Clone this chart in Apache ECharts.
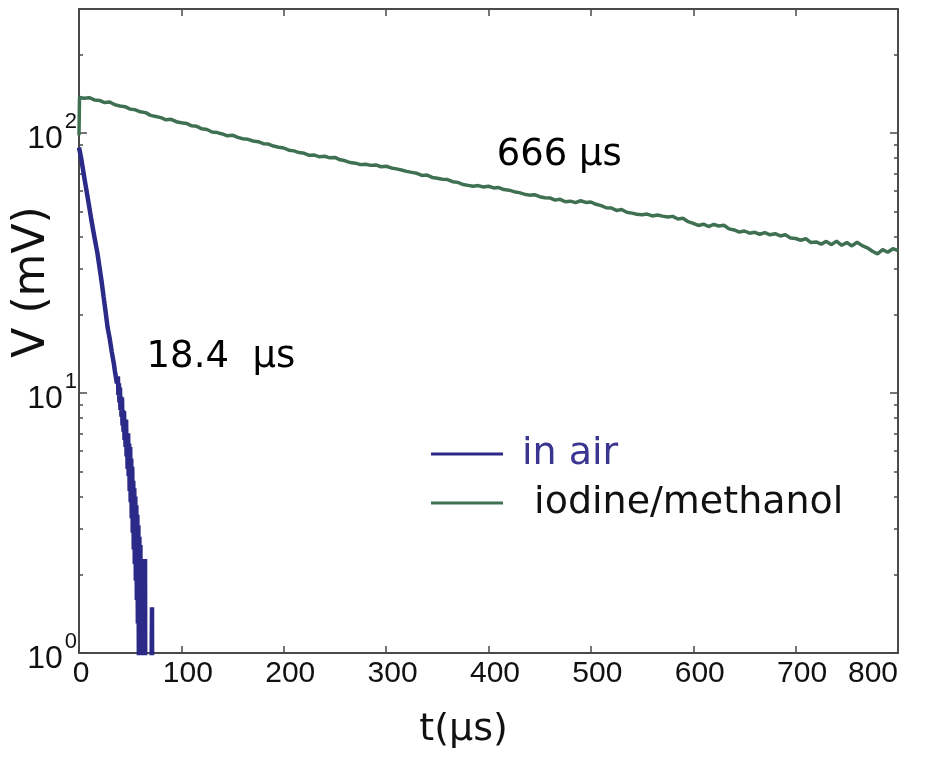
<!DOCTYPE html>
<html>
<head>
<meta charset="utf-8">
<title>Decay of V(t)</title>
<script src="https://cdn.jsdelivr.net/npm/echarts@6/dist/echarts.min.js"></script>
<style>
  html, body { margin: 0; padding: 0; background: #ffffff; }
  #chart { width: 934px; height: 759px; }
</style>
</head>
<body>
<div id="chart"></div>
<script>
// Time axis (µs) and voltage axis (mV, log scale)
const tMin = 0;
const tMax = 800;
const tStep = 100;
const vMin = 1;
const vMax = 300;
const vMajorTicks = [1, 10, 100];
const vMinorTicks = [2, 3, 4, 5, 6, 7, 8, 9, 20, 30, 40, 50, 60, 70, 80, 90, 200];

const seriesNames = ['in air', 'iodine/methanol'];

// Signal in air: [t (µs), V (mV)]; readings below 1 mV fall under the axis
const airData = [
  [0, 88], [2, 80.5], [4, 72], [6, 64.5], [8, 58], [10, 52], [12, 46.5], [14, 42],
  [16, 38], [18, 34.5], [20, 30.5], [22, 27], [24, 23.5], [26, 20.5], [28, 17.8],
  [30, 16.2], [32, 14.4], [34, 13.0], [35, 12.2], [36, 12.0], [37, 10.9],
  [38, 11.6], [38.5, 9.8], [39, 10.9], [39.5, 9.2], [40, 10.5], [40.5, 8.6],
  [41, 9.7], [41.5, 8.1], [42, 9.6], [42.5, 7.5], [43, 8.6], [43.5, 7.1],
  [44, 8.5], [44.5, 6.6], [45, 7.6], [45.5, 6.2], [46, 7.9], [46.5, 5.7],
  [47, 6.8], [47.5, 5.1], [48, 7.0], [48.5, 4.8], [49, 6.4], [49.5, 4.2],
  [50, 6.2], [50.5, 3.8], [51, 5.6], [51.5, 3.3], [52, 5.2], [52.5, 2.9],
  [53, 4.6], [53.5, 2.5], [54, 4.3], [54.5, 2.2], [55, 4.0], [55.5, 1.9],
  [56, 3.7], [56.5, 1.6], [57, 3.4], [57.5, 1.3], [58, 3.1], [58.5, 0.9],
  [59, 2.8], [59.5, 0.5], [60, 2.6], [60.5, 0.4], [61, 2.3], [61.5, 0.3],
  [62, 2.1], [62.5, 0.3], [63, 1.7], [63.5, 0.2], [64, 0.3], [64.5, 2.3],
  [65, 0.2], [66, 0.4], [67, 0.2], [68, 0.3], [69, 0.2], [70, 0.3], [71, 0.3],
  [71.3, 1.5], [71.6, 0.3], [72, 0.1]
];

// Signal in iodine/methanol: [t (µs), V (mV)]
const iodineData = [
  [0, 98], [0.5, 137], [5, 136.2], [10, 136.8], [15, 134.1], [20, 133.5], [25, 131.0],
  [30, 131.6], [35, 128.4], [40, 127.1], [45, 126.3], [50, 123.6], [55, 122.9],
  [60, 120.7], [65, 119.8], [70, 116.9], [75, 115.8], [80, 114.6], [85, 112.4],
  [90, 112.9], [95, 110.6], [100, 109.5], [105, 108.9], [110, 106.6], [115, 106.1],
  [120, 103.8], [125, 103.2], [130, 100.9], [135, 100.4], [140, 99.2], [145, 97.6],
  [150, 98.1], [155, 96.2], [160, 95.1], [165, 94.6], [170, 93.2], [175, 92.6],
  [180, 91.0], [185, 90.7], [190, 89.1], [195, 88.2], [200, 87.6], [205, 85.9],
  [210, 85.4], [215, 84.1], [220, 83.6], [225, 82.1], [230, 82.3], [235, 81.0],
  [240, 81.4], [245, 80.3], [250, 80.6], [255, 78.9], [260, 78.2], [265, 77.0],
  [270, 76.6], [275, 75.6], [280, 75.9], [285, 75.1], [290, 75.4], [295, 74.2],
  [300, 74.5], [305, 73.4], [310, 72.8], [315, 72.1], [320, 71.2], [325, 70.6],
  [330, 70.0], [335, 68.7], [340, 68.9], [345, 67.5], [350, 67.0], [355, 66.4],
  [360, 66.2], [365, 65.0], [370, 64.6], [375, 63.4], [380, 62.9], [385, 62.4],
  [390, 62.8], [395, 62.0], [400, 62.4], [405, 61.5], [410, 61.7], [415, 60.6],
  [420, 60.3], [425, 59.5], [430, 59.0], [435, 58.2], [440, 57.7], [445, 57.9],
  [450, 56.9], [455, 56.4], [460, 56.3], [465, 55.2], [470, 55.6], [475, 54.4],
  [480, 54.7], [485, 54.0], [490, 54.9], [495, 54.1], [500, 54.3], [505, 53.2],
  [510, 52.6], [515, 51.6], [520, 51.5], [525, 50.4], [530, 50.8], [535, 49.6],
  [540, 49.2], [545, 48.7], [550, 48.5], [555, 48.8], [560, 48.0], [565, 48.4],
  [570, 47.9], [575, 47.5], [580, 47.8], [585, 46.7], [590, 47.0], [595, 45.6],
  [600, 44.9], [605, 44.1], [610, 44.6], [615, 43.7], [620, 44.5], [625, 43.9],
  [630, 44.2], [635, 42.8], [640, 42.4], [645, 41.6], [650, 42.0], [655, 41.2],
  [660, 41.5], [665, 40.8], [670, 41.4], [675, 40.6], [680, 41.0], [685, 40.2],
  [690, 40.6], [695, 39.5], [700, 39.3], [705, 38.7], [710, 39.2], [715, 37.9],
  [720, 38.1], [725, 37.4], [730, 38.3], [735, 37.2], [740, 38.4], [745, 37.0],
  [750, 37.9], [755, 36.8], [760, 38.0], [765, 36.9], [770, 36.2], [775, 35.1],
  [780, 34.3], [785, 35.6], [790, 34.8], [795, 35.9], [800, 35.3]
];

// Decay-time annotations placed in data coordinates (left edge of text)
const noteTexts = ['666 µs', '18.4  µs'];
const notePositions = [[408, 82], [66, 13.7]];

const frameColor = '#4a4a4a';
const airColor = '#2c2a88';
const iodineColor = '#3f7052';

const chart = echarts.init(document.getElementById('chart'), null, { renderer: 'canvas' });

const frameLine = { color: frameColor, width: 2 };
const tickLine = { color: frameColor, width: 1.5 };

function logAxis(extra) {
  return Object.assign({
    type: 'log',
    logBase: 10,
    min: vMin,
    max: vMax,
    splitLine: { show: false },
    axisLabel: { show: false }
  }, extra);
}

const tickFont = { fontFamily: 'Liberation Sans', fontSize: 30, color: '#111111' };

const option = {
  animation: false,
  backgroundColor: '#ffffff',
  grid: {
    left: 79, right: 36, top: 9, bottom: 106,
    containLabel: false,
    outerBoundsMode: 'none'
  },
  legend: {
    data: [
      { name: seriesNames[0], textStyle: { color: '#3a3591' } },
      { name: seriesNames[1] }
    ],
    orient: 'vertical',
    left: 426,
    top: 430,
    itemWidth: 72,
    itemHeight: 3,
    itemGap: 11,
    icon: 'rect',
    selectedMode: false,
    formatter: function (name) { return name === seriesNames[1] ? ' ' + name : name; },
    textStyle: {
      fontFamily: 'DejaVu Sans',
      fontSize: 38,
      color: '#111111',
      padding: [0, 0, 0, 14]
    }
  },
  xAxis: [
    {
      type: 'value',
      min: tMin,
      max: tMax,
      interval: tStep,
      position: 'bottom',
      axisLine: { show: true, lineStyle: frameLine },
      axisTick: { show: true, inside: true, length: 7, lineStyle: tickLine },
      axisLabel: {
        margin: 6,
        formatter: function (v) {
          // first and last labels stay close to the frame corners
          if (v === tMax) return '{e|' + v + '}';
          if (v === tMin) return '{z|' + v + '}';
          return '{n|' + v + '}';
        },
        rich: {
          n: Object.assign({ padding: [0, 0, 0, 13] }, tickFont),
          z: Object.assign({ padding: [0, 0, 0, 4] }, tickFont),
          e: Object.assign({ padding: [0, 50, 0, 0] }, tickFont)
        }
      },
      splitLine: { show: false },
      name: 't(µs)',
      nameLocation: 'middle',
      nameGap: 58,
      nameMoveOverlap: false,
      nameTextStyle: {
        fontFamily: 'DejaVu Sans',
        fontSize: 38,
        color: '#111111',
        padding: [0, 50, 0, 0]
      }
    },
    {
      type: 'value',
      min: tMin,
      max: tMax,
      interval: tStep,
      position: 'top',
      axisLine: { show: true, lineStyle: frameLine },
      axisTick: { show: true, inside: true, length: 7, lineStyle: tickLine },
      axisLabel: { show: false },
      splitLine: { show: false }
    }
  ],
  yAxis: [
    logAxis({
      position: 'left',
      axisLine: { show: true, lineStyle: frameLine },
      axisTick: { show: true, inside: true, length: 8, customValues: vMajorTicks, lineStyle: tickLine },
      axisLabel: {
        show: true,
        customValues: vMajorTicks,
        margin: 2,
        formatter: function (v) {
          return '{b|10}{s|' + Math.round(Math.log10(v)) + '}';
        },
        rich: {
          b: { fontFamily: 'Liberation Sans', fontSize: 32, color: '#111111', lineHeight: 44, verticalAlign: 'bottom' },
          s: { fontFamily: 'Liberation Sans', fontSize: 22, color: '#111111', lineHeight: 44, verticalAlign: 'top', padding: [0, 0, 0, 2] }
        }
      },
      name: 'V (mV)',
      nameLocation: 'middle',
      nameRotate: 90,
      nameGap: 24,
      nameMoveOverlap: false,
      nameTextStyle: {
        fontFamily: 'DejaVu Sans',
        fontSize: 44,
        color: '#111111',
        padding: [0, 0, 0, 98]
      }
    }),
    logAxis({
      position: 'left',
      axisLine: { show: false },
      axisTick: { show: true, inside: true, length: 4, customValues: vMinorTicks, lineStyle: tickLine }
    }),
    logAxis({
      position: 'right',
      axisLine: { show: true, lineStyle: frameLine },
      axisTick: { show: true, inside: true, length: 8, customValues: vMajorTicks, lineStyle: tickLine }
    }),
    logAxis({
      position: 'right',
      axisLine: { show: false },
      axisTick: { show: true, inside: true, length: 4, customValues: vMinorTicks, lineStyle: tickLine }
    })
  ],
  series: [
    {
      name: seriesNames[1],
      type: 'line',
      xAxisIndex: 0,
      yAxisIndex: 0,
      data: iodineData,
      showSymbol: false,
      symbol: 'none',
      color: iodineColor,
      lineStyle: { color: iodineColor, width: 3.5 },
      clip: true,
      z: 2
    },
    {
      name: seriesNames[0],
      type: 'line',
      xAxisIndex: 0,
      yAxisIndex: 0,
      data: airData,
      showSymbol: false,
      symbol: 'none',
      color: airColor,
      lineStyle: { color: airColor, width: 4.5 },
      clip: true,
      z: 3
    },
    {
      name: 'decay times',
      type: 'scatter',
      xAxisIndex: 0,
      yAxisIndex: 0,
      symbolSize: 0,
      silent: true,
      itemStyle: { opacity: 1 },
      data: notePositions.map(function (p, i) {
        return { value: p, label: { formatter: noteTexts[i] } };
      }),
      label: {
        show: true,
        position: 'right',
        distance: 0,
        fontFamily: 'DejaVu Sans',
        fontSize: 37,
        color: '#000000',
        opacity: 1
      },
      z: 4
    }
  ]
};

chart.setOption(option);
</script>
</body>
</html>
